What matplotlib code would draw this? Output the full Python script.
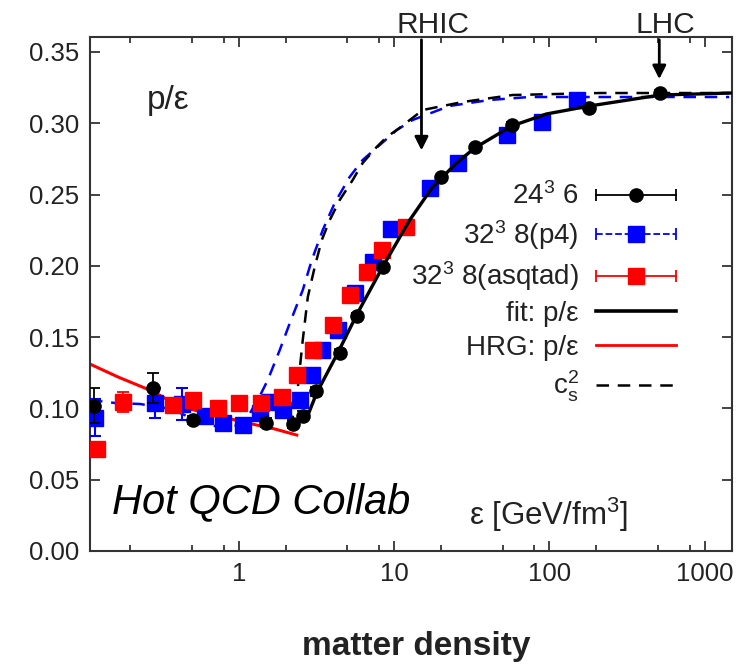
import numpy as np
import matplotlib
matplotlib.use('Agg')
import matplotlib.pyplot as plt
from matplotlib.lines import Line2D
from matplotlib.legend_handler import HandlerBase
from matplotlib.ticker import LogLocator, FuncFormatter, MultipleLocator

plt.rcParams['font.family'] = ['Liberation Sans', 'DejaVu Sans']
plt.rcParams['mathtext.fontset'] = 'custom'
plt.rcParams['mathtext.rm'] = 'Liberation Sans'
plt.rcParams['mathtext.it'] = 'Liberation Sans:italic'
plt.rcParams['mathtext.default'] = 'regular'

# lattice data: 24^3 x 6
eps_n6 = [0.117, 0.28, 0.51, 1.5, 2.22, 2.58, 3.12, 4.46, 5.74, 8.43, 19.9, 33, 57, 181, 517]
pe_n6 = [0.102, 0.114, 0.092, 0.090, 0.089, 0.095, 0.112, 0.139, 0.165, 0.199, 0.262, 0.283, 0.299, 0.311, 0.321]
err_n6 = [0.012, 0.0105, 0.003, 0.003, 0.003, 0.003, 0.003, 0.003, 0.002, 0.002, 0.002, 0.002, 0.002, 0.002, 0.002]

# 32^3 x 8, p4 action
eps_p4 = [0.1186, 0.288, 0.430, 0.604, 0.789, 1.06, 1.365, 1.58, 1.92, 2.47, 2.95, 3.42, 4.33,
          5.57, 7.27, 9.49, 16.9, 25.6, 53.7, 90.2, 151]
pe_p4 = [0.0933, 0.1038, 0.1031, 0.0947, 0.0898, 0.0884, 0.0968, 0.1045, 0.0989, 0.1059, 0.1234,
         0.1410, 0.1550, 0.1809, 0.2027, 0.2258, 0.2546, 0.2721, 0.2917, 0.3008, 0.3163]
err_p4 = [0.013, 0.0105, 0.0115, 0.004, 0.003, 0.003, 0.003, 0.005, 0.005, 0.004, 0.003,
          0.003, 0.003, 0.002, 0.002, 0.002, 0.002, 0.002, 0.002, 0.002, 0.002]

# 32^3 x 8, asqtad action
eps_asq = [0.122, 0.179, 0.376, 0.506, 0.733, 1.0, 1.385, 1.89, 2.36, 2.99, 4.02, 5.17, 6.66, 8.31, 11.9]
pe_asq = [0.0715, 0.1045, 0.1024, 0.1059, 0.1003, 0.1038, 0.1038, 0.1080, 0.1234, 0.1410,
          0.1585, 0.1795, 0.1956, 0.2111, 0.2272]
err_asq = [0.003, 0.007, 0.003, 0.003, 0.003, 0.003, 0.003, 0.003, 0.003, 0.003,
           0.002, 0.002, 0.002, 0.002, 0.002]

# fit to p/eps
eps_fit = [2.19, 2.74, 3.17, 4.33, 5.82, 8.43, 12.6, 17.7, 25.2, 33.0, 57.0, 95.7, 181, 517, 1480]
pe_fit = [0.0877, 0.0933, 0.1108, 0.1388, 0.1669, 0.1992, 0.2321, 0.2553, 0.2721, 0.2826,
          0.2980, 0.3065, 0.3121, 0.3198, 0.3212]

# hadron resonance gas
eps_hrg = [0.110, 0.167, 0.276, 0.360, 0.484, 0.733, 1.21, 1.70, 2.36]
pe_hrg = [0.1311, 0.1220, 0.1122, 0.1052, 0.0996, 0.0947, 0.0891, 0.0856, 0.0813]

# speed of sound squared
eps_cs2 = [2.16, 2.40, 2.58, 2.78, 3.08, 3.42, 3.85, 4.46, 5.41, 6.27, 7.71, 8.95, 10.8, 15.3,
           27.6, 57.8, 210, 1438]
cs2 = [0.0863, 0.1150, 0.1480, 0.1781, 0.1992, 0.2181, 0.2321, 0.2461, 0.2602, 0.2721, 0.2833,
       0.2903, 0.2966, 0.3093, 0.3149, 0.3198, 0.3212, 0.3212]

# speed of sound squared, p4
eps_cs2_p4 = [0.110, 0.1595, 0.231, 0.334, 0.418, 0.561, 0.778, 1.015, 1.18, 1.325, 1.535, 1.835,
              2.13, 2.58, 2.95, 3.47, 4.14, 5.17, 6.27, 8.07, 10.4, 13.1, 22.7, 41.1, 74.3, 210, 1438]
cs2_p4 = [0.1059, 0.1038, 0.1031, 0.1003, 0.0968, 0.0905, 0.0863, 0.0884, 0.0968, 0.1059, 0.1199,
          0.1410, 0.1599, 0.1830, 0.2041, 0.2251, 0.2440, 0.2623, 0.2742, 0.2847, 0.2952, 0.3022,
          0.3121, 0.3163, 0.3184, 0.3184, 0.3184]

rhic_eps, rhic_pe = 15.0, 0.279
lhc_eps, lhc_pe = 510, 0.329

dash = (0, (5, 3.5))


class HandlerBarRow(HandlerBase):
    # horizontal line with end caps and a marker in the middle
    def create_artists(self, legend, orig_handle, xdescent, ydescent,
                       width, height, fontsize, trans):
        y = height / 2 - ydescent
        x0, x1 = -xdescent, width - xdescent
        c = orig_handle.get_color()
        line = Line2D([x0, x1], [y, y], color=c, ls=orig_handle.get_linestyle(), lw=1.3)
        caps = Line2D([x0, x1], [y, y], ls='none', marker='|', ms=8, mew=1.3, color=c)
        mk = Line2D([(x0 + x1) / 2], [y], ls='none', marker=orig_handle.get_marker(),
                    ms=orig_handle.get_markersize(), color=c)
        for a in (line, caps, mk):
            a.set_transform(trans)
        return [line, caps, mk]


fig = plt.figure(figsize=(7.45, 6.64), dpi=100)
ax = fig.add_axes([0.1208, 0.1702, 0.8618, 0.7741])

ax.plot(eps_cs2_p4, cs2_p4, color='#0000ff', lw=1.8, ls=dash, zorder=2)
ax.plot(eps_cs2, cs2, color='black', lw=1.8, ls=dash, zorder=2)
ax.plot(eps_hrg, pe_hrg, color='#ff0000', lw=2.2, zorder=2)

ax.errorbar(eps_p4, pe_p4, yerr=err_p4, fmt='s', color='#0000ff', ms=11, capsize=4,
            elinewidth=1.5, capthick=1.5, zorder=3)
ax.errorbar(eps_asq, pe_asq, yerr=err_asq, fmt='s', color='#ff0000', ms=11, capsize=4,
            elinewidth=1.3, capthick=1.3, zorder=4)
ax.errorbar(eps_n6, pe_n6, yerr=err_n6, fmt='o', color='black', ms=9.5, capsize=4,
            elinewidth=1.3, capthick=1.3, zorder=5)
ax.plot(eps_fit, pe_fit, color='black', lw=2.4, zorder=6)

ax.set_xscale('log')
ax.set_xlim(0.11, 1500)
ax.set_ylim(0, 0.3605)
ax.xaxis.set_major_locator(LogLocator(base=10, subs=(1.0,)))
ax.xaxis.set_minor_locator(LogLocator(base=10, subs=(2.0, 5.0, 8.0)))
ax.xaxis.set_major_formatter(FuncFormatter(lambda v, p: '%g' % v))
ax.xaxis.set_minor_formatter(FuncFormatter(lambda v, p: ''))
ax.yaxis.set_major_locator(MultipleLocator(0.05))
ax.yaxis.set_major_formatter(FuncFormatter(lambda v, p: '%.2f' % v))
ax.tick_params(which='both', direction='in', top=True, right=True, labelsize=18.5,
               colors='#222222', width=1.2, pad=8)
ax.tick_params(which='major', length=7)
ax.tick_params(which='minor', length=4)
for s in ax.spines.values():
    s.set_linewidth(1.5)
    s.set_color('#333333')

# arrows for collider energy densities
arrow = dict(arrowstyle='-|>', color='black', lw=2, mutation_scale=20)
ax.annotate('', xy=(rhic_eps, rhic_pe), xytext=(rhic_eps, 0.3605), arrowprops=arrow,
            annotation_clip=False)
ax.annotate('', xy=(lhc_eps, lhc_pe), xytext=(lhc_eps, 0.3605), arrowprops=arrow,
            annotation_clip=False)
ax.text(17.7, 0.3635, 'RHIC', ha='center', va='baseline', fontsize=21.5, color='#222222',
        clip_on=False)
ax.text(557, 0.3635, 'LHC', ha='center', va='baseline', fontsize=21.5, color='#222222',
        clip_on=False)

ax.text(0.088, 0.86, 'p/ε', transform=ax.transAxes, fontsize=24, color='#222222')
ax.text(0.034, 0.074, 'Hot QCD Collab', transform=ax.transAxes, fontsize=30,
        style='italic', color='black')
ax.text(0.59, 0.05, 'ε [GeV/fm$^3$]', transform=ax.transAxes, fontsize=22.5, color='#222222')

h_n6 = Line2D([], [], color='black', ls='-', marker='o', ms=9.5)
h_p4 = Line2D([], [], color='#0000ff', ls=dash, marker='s', ms=11)
h_asq = Line2D([], [], color='#ff0000', ls='-', marker='s', ms=11)
h_fit = Line2D([], [], color='black', lw=2.6)
h_hrg = Line2D([], [], color='#ff0000', lw=2)
h_cs2 = Line2D([], [], color='black', lw=1.8, ls=dash)
bar = HandlerBarRow()
leg = ax.legend([h_n6, h_p4, h_asq, h_fit, h_hrg, h_cs2],
                ['24$^3$ 6', '32$^3$ 8(p4)', '32$^3$ 8(asqtad)', 'fit: p/ε', 'HRG: p/ε', 'c$_s^2$'],
                handler_map={h_n6: bar, h_p4: bar, h_asq: bar},
                loc='upper right', bbox_to_anchor=(0.913, 0.717), frameon=False,
                markerfirst=False, fontsize=20, handlelength=2.9, handletextpad=0.6,
                labelspacing=0.28, borderpad=0, borderaxespad=0)
for t in leg.get_texts():
    t.set_color('#222222')

fig.text(0.559, 0.014, 'matter density', ha='center', va='baseline', fontsize=24,
         fontweight='bold', color='#222222')

fig.savefig('out.png', dpi=100)
